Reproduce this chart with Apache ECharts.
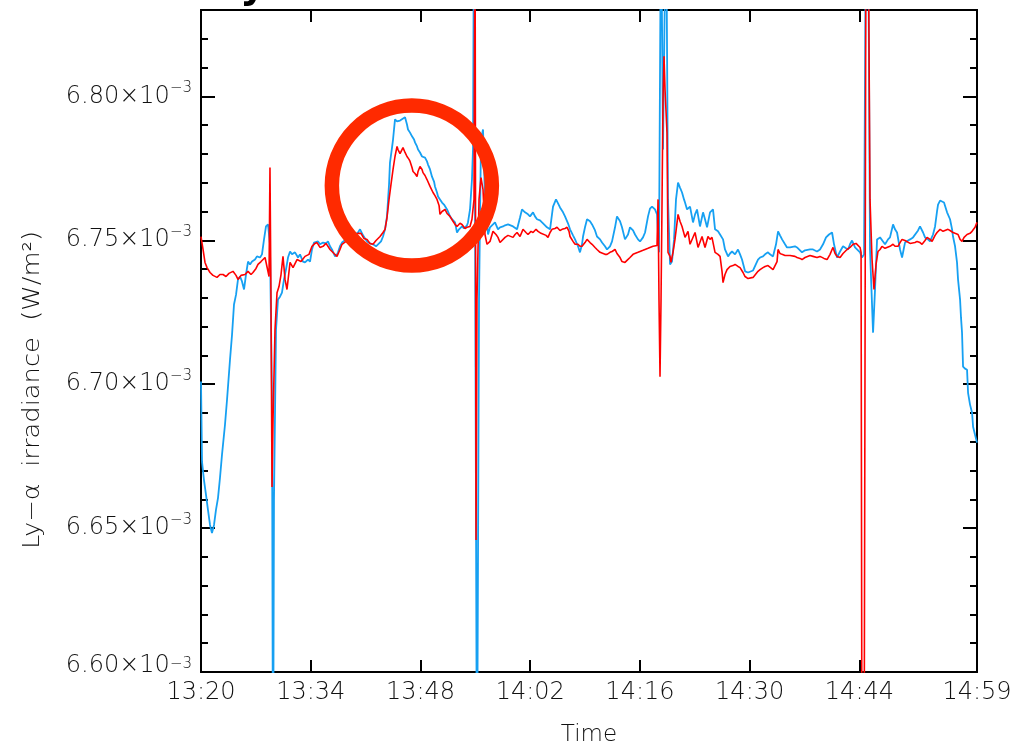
<!DOCTYPE html>
<html>
<head>
<meta charset="utf-8">
<script src="https://cdn.jsdelivr.net/npm/echarts@6.0.0/dist/echarts.min.js"></script>
<style>html,body{margin:0;padding:0;background:#fff;}#c{width:1030px;height:743px;}</style>
</head>
<body>
<div id="c"></div>
<script>
// Time axis: minutes after 13:20. Values in units of 10^-3 W/m^2.
const xTickMinutes = [0, 14, 28, 42, 56, 70, 84, 99];
const xTickLabels = ['13:20', '13:34', '13:48', '14:02', '14:16', '14:30', '14:44', '14:59'];
const yMajorTicks = [6.60, 6.65, 6.70, 6.75, 6.80];
const yMin = 6.60, yMax = 6.83, yMinorStep = 0.01;
const xAxisName = 'Time';
const yAxisName = 'Ly\u2212α  irradiance  (W/m\u00b2)';
const titleFragment = 'y';
// highlighted interval (circle annotation), [minutes, value]
const circleCenter = [26.9, 6.769];

const blueSeries = [
[0.00,6.7009],[0.13,6.6730],[0.38,6.6667],[0.64,6.6615],[0.89,6.6563],[1.15,6.6511],[1.40,6.6483],[1.66,6.6511],[1.91,6.6563],[2.17,6.6605],
[2.42,6.6674],[2.68,6.6755],[3.06,6.6859],[3.32,6.6946],[3.70,6.7085],[3.96,6.7172],[4.21,6.7277],[4.47,6.7311],[4.72,6.7364],[4.98,6.7374],
[5.23,6.7357],[5.49,6.7329],[5.74,6.7381],[6.00,6.7426],[6.25,6.7416],[6.51,6.7426],[6.89,6.7433],[7.14,6.7444],[7.53,6.7440],[7.78,6.7451],
[8.04,6.7503],[8.29,6.7548],[8.55,6.7555],[8.80,6.7486],[9.06,6.6946],[9.19,6.5500],[9.31,6.6598],[9.57,6.7189],[9.82,6.7294],[10.08,6.7304],
[10.33,6.7318],[10.59,6.7364],[10.84,6.7398],[11.10,6.7440],[11.36,6.7461],[11.61,6.7451],[11.99,6.7458],[12.38,6.7440],[12.63,6.7451],[13.01,6.7426],
[13.27,6.7423],[13.65,6.7433],[13.91,6.7426],[14.16,6.7468],[14.42,6.7492],[14.67,6.7489],[14.93,6.7496],[15.18,6.7486],[15.57,6.7492],[15.95,6.7489],
[16.20,6.7496],[16.46,6.7479],[16.71,6.7468],[17.10,6.7444],[17.35,6.7451],[17.48,6.7458],[17.73,6.7479],[17.99,6.7492],[18.50,6.7503],[19.01,6.7510],
[19.52,6.7517],[20.03,6.7527],[20.29,6.7538],[20.67,6.7517],[21.18,6.7496],[21.56,6.7489],[21.94,6.7486],[22.33,6.7479],[22.58,6.7479],[22.97,6.7496],
[23.22,6.7513],[23.48,6.7538],[23.73,6.7583],[23.99,6.7694],[24.11,6.7770],[24.37,6.7822],[24.50,6.7850],[24.75,6.7920],[25.01,6.7913],[25.13,6.7913],
[25.39,6.7916],[25.64,6.7920],[26.03,6.7927],[26.28,6.7902],[26.41,6.7885],[26.67,6.7874],[26.92,6.7861],[27.18,6.7850],[27.30,6.7840],[27.56,6.7826],
[27.69,6.7815],[27.94,6.7805],[28.20,6.7791],[28.45,6.7787],[28.58,6.7787],[28.83,6.7774],[28.96,6.7763],[29.22,6.7746],[29.47,6.7721],[29.73,6.7704],
[29.85,6.7687],[30.11,6.7666],[30.24,6.7652],[30.49,6.7642],[30.75,6.7631],[31.00,6.7624],[31.13,6.7624],[31.39,6.7607],[31.77,6.7583],[32.02,6.7573],
[32.41,6.7562],[32.66,6.7527],[32.92,6.7538],[33.30,6.7548],[33.55,6.7541],[33.68,6.7538],[33.94,6.7552],[34.06,6.7562],[34.32,6.7607],[34.57,6.7711],
[34.70,6.7815],[34.83,6.8700],[34.96,6.8700],[35.21,6.5500],[35.47,6.7294],[35.72,6.7850],[35.98,6.7885],[36.23,6.7642],[36.62,6.7520],[36.87,6.7545],
[37.25,6.7555],[37.51,6.7562],[37.89,6.7538],[38.15,6.7545],[38.53,6.7548],[38.79,6.7552],[39.17,6.7555],[39.42,6.7552],[39.81,6.7548],[40.06,6.7545],
[40.32,6.7538],[40.70,6.7579],[40.95,6.7607],[41.34,6.7597],[41.72,6.7590],[41.97,6.7583],[42.36,6.7597],[42.61,6.7583],[42.87,6.7573],[43.25,6.7569],
[43.51,6.7562],[43.89,6.7552],[44.14,6.7545],[44.53,6.7538],[44.78,6.7590],[44.91,6.7617],[45.29,6.7642],[45.55,6.7628],[45.80,6.7614],[46.19,6.7597],
[46.44,6.7583],[46.82,6.7559],[47.08,6.7538],[47.46,6.7517],[47.72,6.7503],[48.10,6.7479],[48.35,6.7458],[48.61,6.7486],[48.74,6.7513],[48.99,6.7545],
[49.25,6.7573],[49.63,6.7566],[49.89,6.7555],[50.27,6.7534],[50.52,6.7513],[50.91,6.7503],[51.16,6.7492],[51.54,6.7479],[51.80,6.7468],[52.18,6.7479],
[52.44,6.7496],[52.82,6.7545],[53.07,6.7583],[53.46,6.7566],[53.71,6.7545],[54.09,6.7503],[54.48,6.7520],[54.73,6.7545],[55.12,6.7534],[55.37,6.7520],
[55.75,6.7503],[56.01,6.7496],[56.39,6.7510],[56.65,6.7527],[57.03,6.7583],[57.28,6.7610],[57.54,6.7617],[57.92,6.7607],[58.18,6.7590],[58.43,6.7458],
[58.69,6.8700],[58.94,6.7815],[59.33,6.8700],[59.58,6.7642],[59.84,6.7416],[60.09,6.7426],[60.35,6.7503],[60.60,6.7642],[60.86,6.7700],[61.11,6.7683],
[61.37,6.7666],[61.62,6.7642],[61.75,6.7631],[62.01,6.7607],[62.39,6.7617],[62.77,6.7562],[63.03,6.7590],[63.28,6.7607],[63.66,6.7548],[64.05,6.7597],
[64.30,6.7573],[64.56,6.7545],[64.94,6.7597],[65.32,6.7607],[65.58,6.7538],[65.96,6.7531],[66.22,6.7520],[66.60,6.7503],[66.85,6.7468],[67.24,6.7444],
[67.49,6.7454],[67.75,6.7461],[68.13,6.7451],[68.51,6.7468],[68.77,6.7451],[69.02,6.7433],[69.41,6.7392],[69.79,6.7388],[70.04,6.7388],[70.43,6.7395],
[70.68,6.7398],[71.06,6.7433],[71.32,6.7440],[71.70,6.7444],[71.96,6.7451],[72.34,6.7458],[72.59,6.7451],[72.98,6.7444],[73.36,6.7486],[73.62,6.7531],
[73.87,6.7517],[74.13,6.7503],[74.51,6.7486],[74.76,6.7475],[75.15,6.7475],[75.40,6.7479],[75.78,6.7479],[76.04,6.7475],[76.42,6.7465],[76.68,6.7458],
[77.06,6.7465],[77.31,6.7468],[77.70,6.7468],[78.08,6.7468],[78.59,6.7461],[78.97,6.7468],[79.36,6.7486],[79.74,6.7510],[80.12,6.7520],[80.51,6.7527],
[80.76,6.7486],[81.14,6.7440],[81.53,6.7461],[81.91,6.7479],[82.29,6.7472],[82.55,6.7468],[82.80,6.7486],[83.06,6.7499],[83.44,6.7475],[83.69,6.7479],
[84.08,6.7458],[84.33,6.7440],[84.59,6.7451],[84.84,6.8700],[85.10,6.8700],[85.35,6.7468],[85.74,6.7179],[85.99,6.7329],[86.25,6.7503],[86.63,6.7510],
[87.01,6.7496],[87.27,6.7486],[87.65,6.7503],[87.90,6.7510],[88.29,6.7555],[88.54,6.7538],[88.80,6.7527],[89.18,6.7468],[89.44,6.7440],[89.69,6.7475],
[89.82,6.7492],[90.20,6.7499],[90.46,6.7503],[90.84,6.7510],[91.09,6.7513],[91.48,6.7534],[91.73,6.7548],[92.12,6.7527],[92.37,6.7510],[92.75,6.7503],
[93.01,6.7496],[93.39,6.7520],[93.65,6.7548],[93.90,6.7600],[94.03,6.7624],[94.29,6.7638],[94.54,6.7642],[94.79,6.7631],[94.92,6.7631],[95.18,6.7597],
[95.56,6.7573],[95.82,6.7538],[95.94,6.7513],[96.20,6.7479],[96.45,6.7423],[96.58,6.7364],[96.84,6.7294],[96.96,6.7231],[97.09,6.7179],[97.22,6.7061],
[97.47,6.7054],[97.73,6.7050],[97.86,6.6970],[98.11,6.6929],[98.37,6.6901],[98.50,6.6852],[98.75,6.6824],[99.00,6.6797]
];

const redSeries = [
[0.00,6.7513],[0.26,6.7468],[0.51,6.7423],[0.77,6.7405],[1.15,6.7388],[1.53,6.7378],[2.04,6.7371],[2.42,6.7381],[2.81,6.7381],[3.19,6.7374],
[3.57,6.7385],[4.08,6.7392],[4.47,6.7378],[4.72,6.7364],[5.10,6.7378],[5.61,6.7381],[6.00,6.7392],[6.38,6.7381],[6.63,6.7388],[7.02,6.7402],
[7.27,6.7416],[7.66,6.7426],[7.91,6.7426],[8.17,6.7440],[8.42,6.7444],[8.68,6.7374],[8.80,6.7753],[8.93,6.7294],[9.06,6.6643],[9.19,6.6877],
[9.44,6.7189],[9.70,6.7318],[9.95,6.7339],[10.21,6.7381],[10.46,6.7444],[10.72,6.7364],[10.97,6.7329],[11.36,6.7423],[11.74,6.7405],[12.25,6.7433],
[12.76,6.7426],[13.27,6.7444],[13.78,6.7451],[14.16,6.7479],[14.54,6.7489],[14.80,6.7492],[15.18,6.7475],[15.57,6.7479],[15.95,6.7489],[16.46,6.7468],
[16.97,6.7454],[17.35,6.7444],[17.73,6.7468],[17.99,6.7486],[18.50,6.7496],[19.01,6.7503],[19.52,6.7517],[20.03,6.7524],[20.41,6.7524],[20.80,6.7506],
[21.18,6.7503],[21.56,6.7489],[21.94,6.7486],[22.33,6.7499],[22.84,6.7513],[23.22,6.7527],[23.48,6.7538],[23.73,6.7579],[23.99,6.7642],[24.24,6.7694],
[24.50,6.7746],[24.75,6.7791],[25.01,6.7826],[25.13,6.7815],[25.39,6.7801],[25.52,6.7798],[25.77,6.7822],[26.03,6.7805],[26.28,6.7791],[26.54,6.7781],
[26.67,6.7774],[26.92,6.7753],[27.05,6.7739],[27.30,6.7732],[27.56,6.7721],[27.69,6.7739],[27.94,6.7756],[28.20,6.7746],[28.32,6.7735],[28.58,6.7725],
[28.83,6.7711],[29.22,6.7687],[29.60,6.7666],[29.85,6.7655],[30.11,6.7642],[30.37,6.7621],[30.49,6.7590],[30.75,6.7600],[31.13,6.7607],[31.39,6.7593],
[31.77,6.7583],[32.15,6.7566],[32.41,6.7555],[32.66,6.7548],[33.04,6.7559],[33.30,6.7555],[33.68,6.7541],[33.94,6.7545],[34.32,6.7548],[34.57,6.7573],
[34.83,6.7642],[34.96,6.8700],[35.09,6.6459],[35.21,6.7294],[35.47,6.7642],[35.72,6.7718],[35.98,6.7676],[36.23,6.7520],[36.49,6.7486],[36.87,6.7496],
[37.25,6.7531],[37.64,6.7520],[37.89,6.7510],[38.15,6.7492],[38.40,6.7486],[38.79,6.7510],[39.17,6.7517],[39.42,6.7513],[39.81,6.7510],[40.06,6.7520],
[40.32,6.7527],[40.70,6.7513],[41.08,6.7538],[41.46,6.7527],[41.72,6.7520],[42.10,6.7531],[42.36,6.7527],[42.74,6.7538],[43.00,6.7531],[43.38,6.7524],
[43.63,6.7527],[44.02,6.7517],[44.27,6.7510],[44.53,6.7527],[44.78,6.7538],[45.16,6.7541],[45.42,6.7545],[45.80,6.7534],[46.06,6.7538],[46.44,6.7541],
[46.70,6.7545],[46.95,6.7531],[47.08,6.7513],[47.46,6.7496],[47.72,6.7486],[48.10,6.7486],[48.35,6.7479],[48.61,6.7479],[48.99,6.7492],[49.25,6.7503],
[49.63,6.7492],[49.89,6.7486],[50.27,6.7475],[50.52,6.7468],[50.91,6.7458],[51.16,6.7458],[51.54,6.7451],[51.80,6.7451],[52.18,6.7458],[52.44,6.7461],
[52.82,6.7468],[53.07,6.7454],[53.46,6.7440],[53.71,6.7426],[54.09,6.7423],[54.35,6.7430],[54.73,6.7440],[55.12,6.7451],[55.37,6.7451],[55.75,6.7458],
[56.01,6.7461],[56.39,6.7465],[56.65,6.7468],[57.03,6.7472],[57.28,6.7475],[57.67,6.7479],[57.92,6.7479],[58.18,6.7482],[58.31,6.7642],[58.43,6.7294],
[58.56,6.7026],[58.69,6.7294],[58.82,6.7642],[58.94,6.7989],[59.07,6.8139],[59.20,6.8024],[59.45,6.7874],[59.58,6.7458],[59.84,6.7444],[59.96,6.7423],
[60.22,6.7458],[60.47,6.7503],[60.86,6.7590],[61.11,6.7566],[61.37,6.7548],[61.75,6.7510],[62.13,6.7531],[62.39,6.7486],[62.64,6.7492],[63.03,6.7527],
[63.41,6.7475],[63.66,6.7479],[63.92,6.7513],[64.30,6.7475],[64.68,6.7513],[64.94,6.7503],[65.19,6.7510],[65.58,6.7458],[65.96,6.7451],[66.22,6.7444],
[66.47,6.7392],[66.60,6.7353],[66.85,6.7381],[67.11,6.7398],[67.49,6.7409],[67.87,6.7412],[68.13,6.7416],[68.51,6.7409],[68.77,6.7405],[69.15,6.7388],
[69.41,6.7374],[69.79,6.7367],[70.04,6.7364],[70.43,6.7371],[70.68,6.7374],[71.06,6.7392],[71.32,6.7398],[71.70,6.7405],[71.96,6.7409],[72.34,6.7412],
[72.59,6.7416],[72.98,6.7398],[73.23,6.7392],[73.49,6.7426],[73.62,6.7468],[73.87,6.7454],[74.13,6.7451],[74.51,6.7447],[74.76,6.7444],[75.15,6.7447],
[75.40,6.7451],[75.78,6.7444],[76.04,6.7440],[76.42,6.7437],[76.68,6.7433],[77.06,6.7440],[77.31,6.7444],[77.70,6.7447],[78.08,6.7444],[78.59,6.7440],
[78.97,6.7444],[79.48,6.7437],[79.87,6.7433],[80.25,6.7451],[80.51,6.7468],[80.63,6.7475],[80.89,6.7454],[81.14,6.7444],[81.53,6.7440],[81.91,6.7454],
[82.42,6.7468],[82.80,6.7475],[83.19,6.7486],[83.57,6.7489],[83.82,6.7492],[84.08,6.7475],[84.21,6.7458],[84.33,6.5500],[84.59,6.5500],[84.84,6.8700],
[85.10,6.8700],[85.35,6.7642],[85.61,6.7433],[85.86,6.7329],[86.12,6.7416],[86.37,6.7461],[86.63,6.7468],[86.88,6.7479],[87.27,6.7472],[87.52,6.7468],
[87.90,6.7479],[88.29,6.7486],[88.54,6.7479],[88.92,6.7479],[89.18,6.7492],[89.44,6.7503],[89.82,6.7499],[90.07,6.7496],[90.46,6.7489],[90.71,6.7492],
[91.09,6.7492],[91.35,6.7496],[91.73,6.7492],[91.99,6.7486],[92.37,6.7499],[92.63,6.7510],[93.01,6.7503],[93.27,6.7496],[93.65,6.7517],[93.90,6.7527],
[94.29,6.7538],[94.67,6.7531],[94.92,6.7531],[95.30,6.7538],[95.56,6.7534],[95.94,6.7527],[96.20,6.7524],[96.58,6.7520],[96.84,6.7503],[97.09,6.7496],
[97.35,6.7510],[97.73,6.7520],[98.11,6.7524],[98.37,6.7531],[98.75,6.7545],[99.00,6.7562]
];

const FONT = 'DejaVu Sans';
const TXT = '#111';
const yMinorTicks = [];
for (let k = 1; k < Math.round((yMax - yMin) / yMinorStep); k++) {
  const v = +(yMin + k * yMinorStep).toFixed(2);
  if (Math.round(v * 100) % 5 !== 0) yMinorTicks.push(v);
}
const axisLineStyle = { show: true, lineStyle: { color: '#000', width: 2 } };
const mStyle = { fontFamily: FONT, fontSize: 24, fontWeight: 200, color: TXT, lineHeight: 31 };
const sStyle = { fontFamily: FONT, fontSize: 15, fontWeight: 200, color: TXT, lineHeight: 15, verticalAlign: 'top' };
function yAx(position, ticks, len, labels) {
  return {
    type: 'value', position: position, min: yMin, max: yMax,
    axisLine: axisLineStyle, splitLine: { show: false },
    axisTick: { show: true, inside: true, length: len, customValues: ticks, lineStyle: { color: '#000', width: 2 } },
    axisLabel: labels ? {
      show: true, customValues: ticks, margin: 9,
      formatter: v => {
        const low = Math.abs(v - yMin) < 1e-9;  // bottom label sits a bit higher, as in the original
        return (low ? '{m0|' : '{m|') + v.toFixed(2) + '\u00d710}' + (low ? '{s0|' : '{s|') + '\u22123}';
      },
      rich: {
        m: mStyle, s: sStyle,
        m0: Object.assign({}, mStyle, { padding: [0, 0, 12, 0] }),
        s0: Object.assign({}, sStyle)
      }
    } : { show: false }
  };
}
function xAx(position, labels) {
  return {
    type: 'value', position: position, min: 0, max: 99,
    axisLine: axisLineStyle, splitLine: { show: false },
    axisTick: { show: true, inside: true, length: 12, customValues: xTickMinutes, lineStyle: { color: '#000', width: 2 } },
    axisLabel: labels ? {
      show: true, customValues: xTickMinutes, margin: 9,
      fontFamily: FONT, fontSize: 24, fontWeight: 200, color: TXT,
      formatter: v => xTickLabels[xTickMinutes.indexOf(v)]
    } : { show: false },
    name: labels ? xAxisName : '', nameLocation: 'middle', nameGap: 52,
    nameTextStyle: { fontFamily: FONT, fontSize: 23, fontWeight: 200, color: TXT }
  };
}

const chart = echarts.init(document.getElementById('c'), null, { renderer: 'canvas' });
chart.setOption({
  animation: false,
  backgroundColor: '#fff',
  grid: { left: 201, top: 10, width: 776, height: 662, containLabel: false, outerBoundsMode: 'none' },
  xAxis: [xAx('bottom', true), xAx('top', false)],
  yAxis: [
    yAx('left', yMajorTicks, 14, true),
    yAx('left', yMinorTicks, 7, false),
    yAx('right', yMajorTicks, 14, false),
    yAx('right', yMinorTicks, 7, false)
  ],
  series: [
    { type: 'line', data: blueSeries, xAxisIndex: 0, yAxisIndex: 0, showSymbol: false, clip: true, z: 2,
      lineStyle: { color: '#16a0f2', width: 1.8 } },
    { type: 'line', data: redSeries, xAxisIndex: 0, yAxisIndex: 0, showSymbol: false, clip: true, z: 3,
      lineStyle: { color: '#ff0000', width: 1.6 } }
  ]
});
const cp = chart.convertToPixel({ xAxisIndex: 0, yAxisIndex: 0 }, circleCenter);
chart.setOption({
  graphic: [
    { type: 'circle', z: 100, shape: { cx: cp[0], cy: cp[1], r: 80 },
      style: { fill: 'none', stroke: '#ff2a00', lineWidth: 14.5 } },
    { type: 'text', z: 100, x: 33, y: 390, rotation: Math.PI / 2, scaleX: 1.12,
      style: { text: yAxisName, font: '200 23px "DejaVu Sans"', fill: TXT, align: 'center', verticalAlign: 'middle' } },
    { type: 'text', z: 100, x: 253, y: -13,
      style: { text: titleFragment, font: 'bold 40px "DejaVu Sans"', fill: '#000', align: 'center', verticalAlign: 'middle' } }
  ]
});
</script>
</body>
</html>
